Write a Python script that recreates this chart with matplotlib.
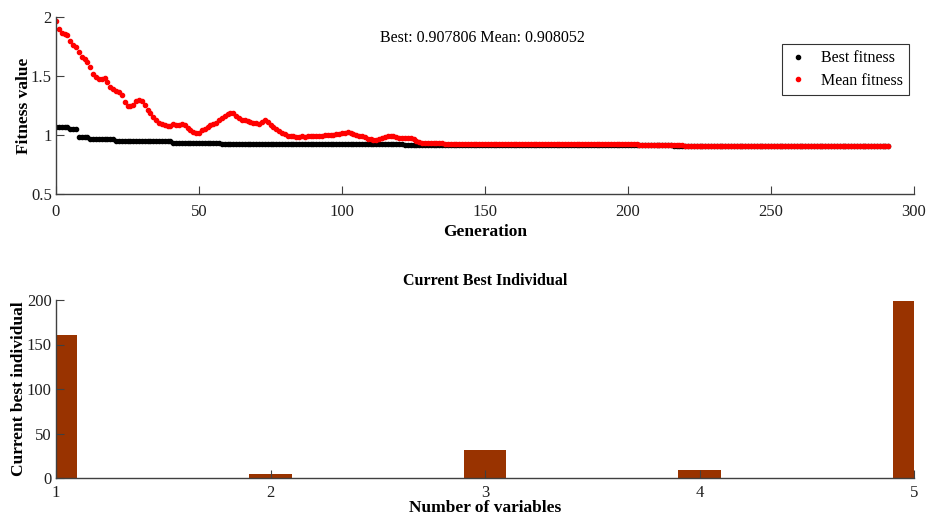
import numpy as np
import matplotlib
matplotlib.use("Agg")
import matplotlib.pyplot as plt

plt.rcParams['font.family'] = ['Liberation Serif', 'DejaVu Serif']

# best fitness is a step curve: level values and how many generations each lasts
best_levels = [1.070, 1.052, 0.985, 0.962, 0.950, 0.936, 0.921, 0.915, 0.907806]
best_runs = [5, 3, 4, 9, 20, 17, 64, 94, 76]

# mean fitness, one value per generation (0..291)
mean_fit = [
    1.966, 1.900, 1.865, 1.860, 1.845, 1.800, 1.760, 1.745, 1.700, 1.665,
    1.645, 1.620, 1.580, 1.520, 1.490, 1.475, 1.475, 1.485, 1.445, 1.410,
    1.390, 1.375, 1.368, 1.340, 1.280, 1.245, 1.250, 1.258, 1.285, 1.300,
    1.285, 1.255, 1.215, 1.185, 1.155, 1.125, 1.100, 1.090, 1.085, 1.078,
    1.080, 1.090, 1.088, 1.082, 1.090, 1.085, 1.060, 1.040, 1.025, 1.015,
    1.020, 1.040, 1.055, 1.070, 1.083, 1.090, 1.105, 1.125, 1.145, 1.165,
    1.175, 1.185, 1.185, 1.165, 1.140, 1.130, 1.125, 1.115, 1.110, 1.105,
    1.100, 1.095, 1.110, 1.125, 1.110, 1.085, 1.070, 1.055, 1.035, 1.020,
    1.005, 0.995, 0.990, 0.990, 0.985, 0.985, 0.988, 0.985, 0.990, 0.990,
    0.990, 0.990, 0.995, 0.995, 0.998, 1.000, 1.000, 1.003, 1.008, 1.012,
    1.015, 1.020, 1.022, 1.015, 1.005, 1.000, 0.995, 0.990, 0.980, 0.970,
    0.962, 0.958, 0.960, 0.968, 0.975, 0.985, 0.992, 0.995, 0.990, 0.985,
    0.978, 0.972, 0.975, 0.978, 0.975, 0.965, 0.952, 0.940, 0.935, 0.932,
    0.930, 0.930, 0.929, 0.929, 0.928, 0.928, 0.927, 0.927, 0.927, 0.926,
    0.926, 0.925, 0.925, 0.925, 0.925, 0.925, 0.924, 0.924, 0.924, 0.924,
    0.924, 0.924, 0.924, 0.924, 0.924, 0.923, 0.923, 0.923, 0.923, 0.923,
    0.923, 0.923, 0.923, 0.923, 0.923, 0.923, 0.922, 0.922, 0.922, 0.922,
    0.923, 0.924, 0.925, 0.925, 0.925, 0.925, 0.925, 0.924, 0.924, 0.924,
    0.924, 0.924, 0.924, 0.924, 0.923, 0.923, 0.923, 0.923, 0.922, 0.922,
    0.922, 0.922, 0.922, 0.921, 0.921, 0.921, 0.921, 0.921, 0.920, 0.920,
    0.920, 0.920, 0.920, 0.920, 0.919, 0.919, 0.919, 0.919, 0.919, 0.918,
    0.918, 0.918, 0.918, 0.918, 0.918, 0.913, 0.912, 0.912, 0.912, 0.912,
    0.911, 0.911, 0.911, 0.911, 0.911, 0.911, 0.910, 0.910, 0.910, 0.910,
    0.910, 0.910, 0.910, 0.910, 0.910, 0.910, 0.910, 0.910, 0.910, 0.909,
    0.909, 0.909, 0.909, 0.909, 0.909, 0.909, 0.909, 0.909, 0.909, 0.909,
    0.909, 0.909, 0.909, 0.909, 0.909, 0.909, 0.909, 0.909, 0.909, 0.909,
    0.908, 0.908, 0.908, 0.908, 0.908, 0.908, 0.908, 0.908, 0.908, 0.908,
    0.908, 0.908, 0.908, 0.908, 0.908, 0.908, 0.908, 0.908, 0.908, 0.908,
    0.908, 0.908, 0.908, 0.908, 0.908, 0.908, 0.908, 0.908, 0.908, 0.908,
    0.908, 0.908,
]

best_value = 0.907806
mean_value = 0.908052

# current best individual
variables = [1, 2, 3, 4, 5]
individual = [161, 4, 31, 9, 199]

gens = np.arange(len(mean_fit))
best_fit = np.repeat(best_levels, best_runs)

fig = plt.figure(figsize=(9.27, 5.2), dpi=100)

tick_font = 12
label_font = 12.5
axcol = '#404040'

def style_axes(ax):
    for s in ['top', 'right']:
        ax.spines[s].set_visible(False)
    for s in ['left', 'bottom']:
        ax.spines[s].set_color(axcol)
        ax.spines[s].set_linewidth(1.0)
    ax.tick_params(direction='in', length=6, width=0.8, color=axcol,
                   labelsize=tick_font, labelcolor='#202020')
    ax.tick_params(axis='x', pad=7)
    ax.tick_params(axis='y', pad=3)

# fitness plot
ax1 = fig.add_axes([56/927, 1-194/520, 858/927, 177/520])
ax1.plot(gens, best_fit, linestyle='none', marker='.', ms=6, color='black',
         label='Best fitness')
ax1.plot(gens, mean_fit, linestyle='none', marker='.', ms=6, color='#ff0000',
         label='Mean fitness')
ax1.set_xlim(0, 300)
ax1.set_ylim(0.5, 2)
ax1.set_xticks([0, 50, 100, 150, 200, 250, 300])
ax1.set_yticks([0.5, 1, 1.5, 2])
ax1.set_yticklabels(['0.5', '1', '1.5', '2'])
style_axes(ax1)
ax1.set_xlabel('Generation', fontsize=label_font, fontweight='bold', labelpad=3)
ax1.set_ylabel('Fitness value', fontsize=label_font, fontweight='bold', labelpad=-1)
ax1.text(0.497, 0.88, 'Best: %f Mean: %f' % (best_value, mean_value),
         transform=ax1.transAxes, ha='center', va='center', fontsize=11.5)
leg = ax1.legend(loc='upper right', bbox_to_anchor=(909/927, 1-44/520),
                 bbox_transform=fig.transFigure, borderaxespad=0,
                 fontsize=11.5, frameon=True, fancybox=False, borderpad=0.4,
                 handletextpad=0.8, handlelength=1.2, markerscale=1.0,
                 labelspacing=0.4)
leg.get_frame().set_edgecolor('black')
leg.get_frame().set_linewidth(0.8)

# current best individual bars
ax2 = fig.add_axes([56/927, 1-478/520, 858/927, 178/520])
ax2.bar(variables, individual, width=0.2, color='#993300', edgecolor='none')
ax2.set_xlim(1, 5)
ax2.set_ylim(0, 200)
ax2.set_xticks(variables)
ax2.set_yticks([0, 50, 100, 150, 200])
style_axes(ax2)
ax2.tick_params(axis='x', pad=5)
ax2.set_title('Current Best Individual', fontsize=11.5, fontweight='bold', pad=11)
ax2.set_xlabel('Number of variables', fontsize=label_font, fontweight='bold',
               labelpad=-1)
ax2.set_ylabel('Current best individual', fontsize=label_font, fontweight='bold',
               labelpad=0)

fig.savefig('out.png', dpi=100)
